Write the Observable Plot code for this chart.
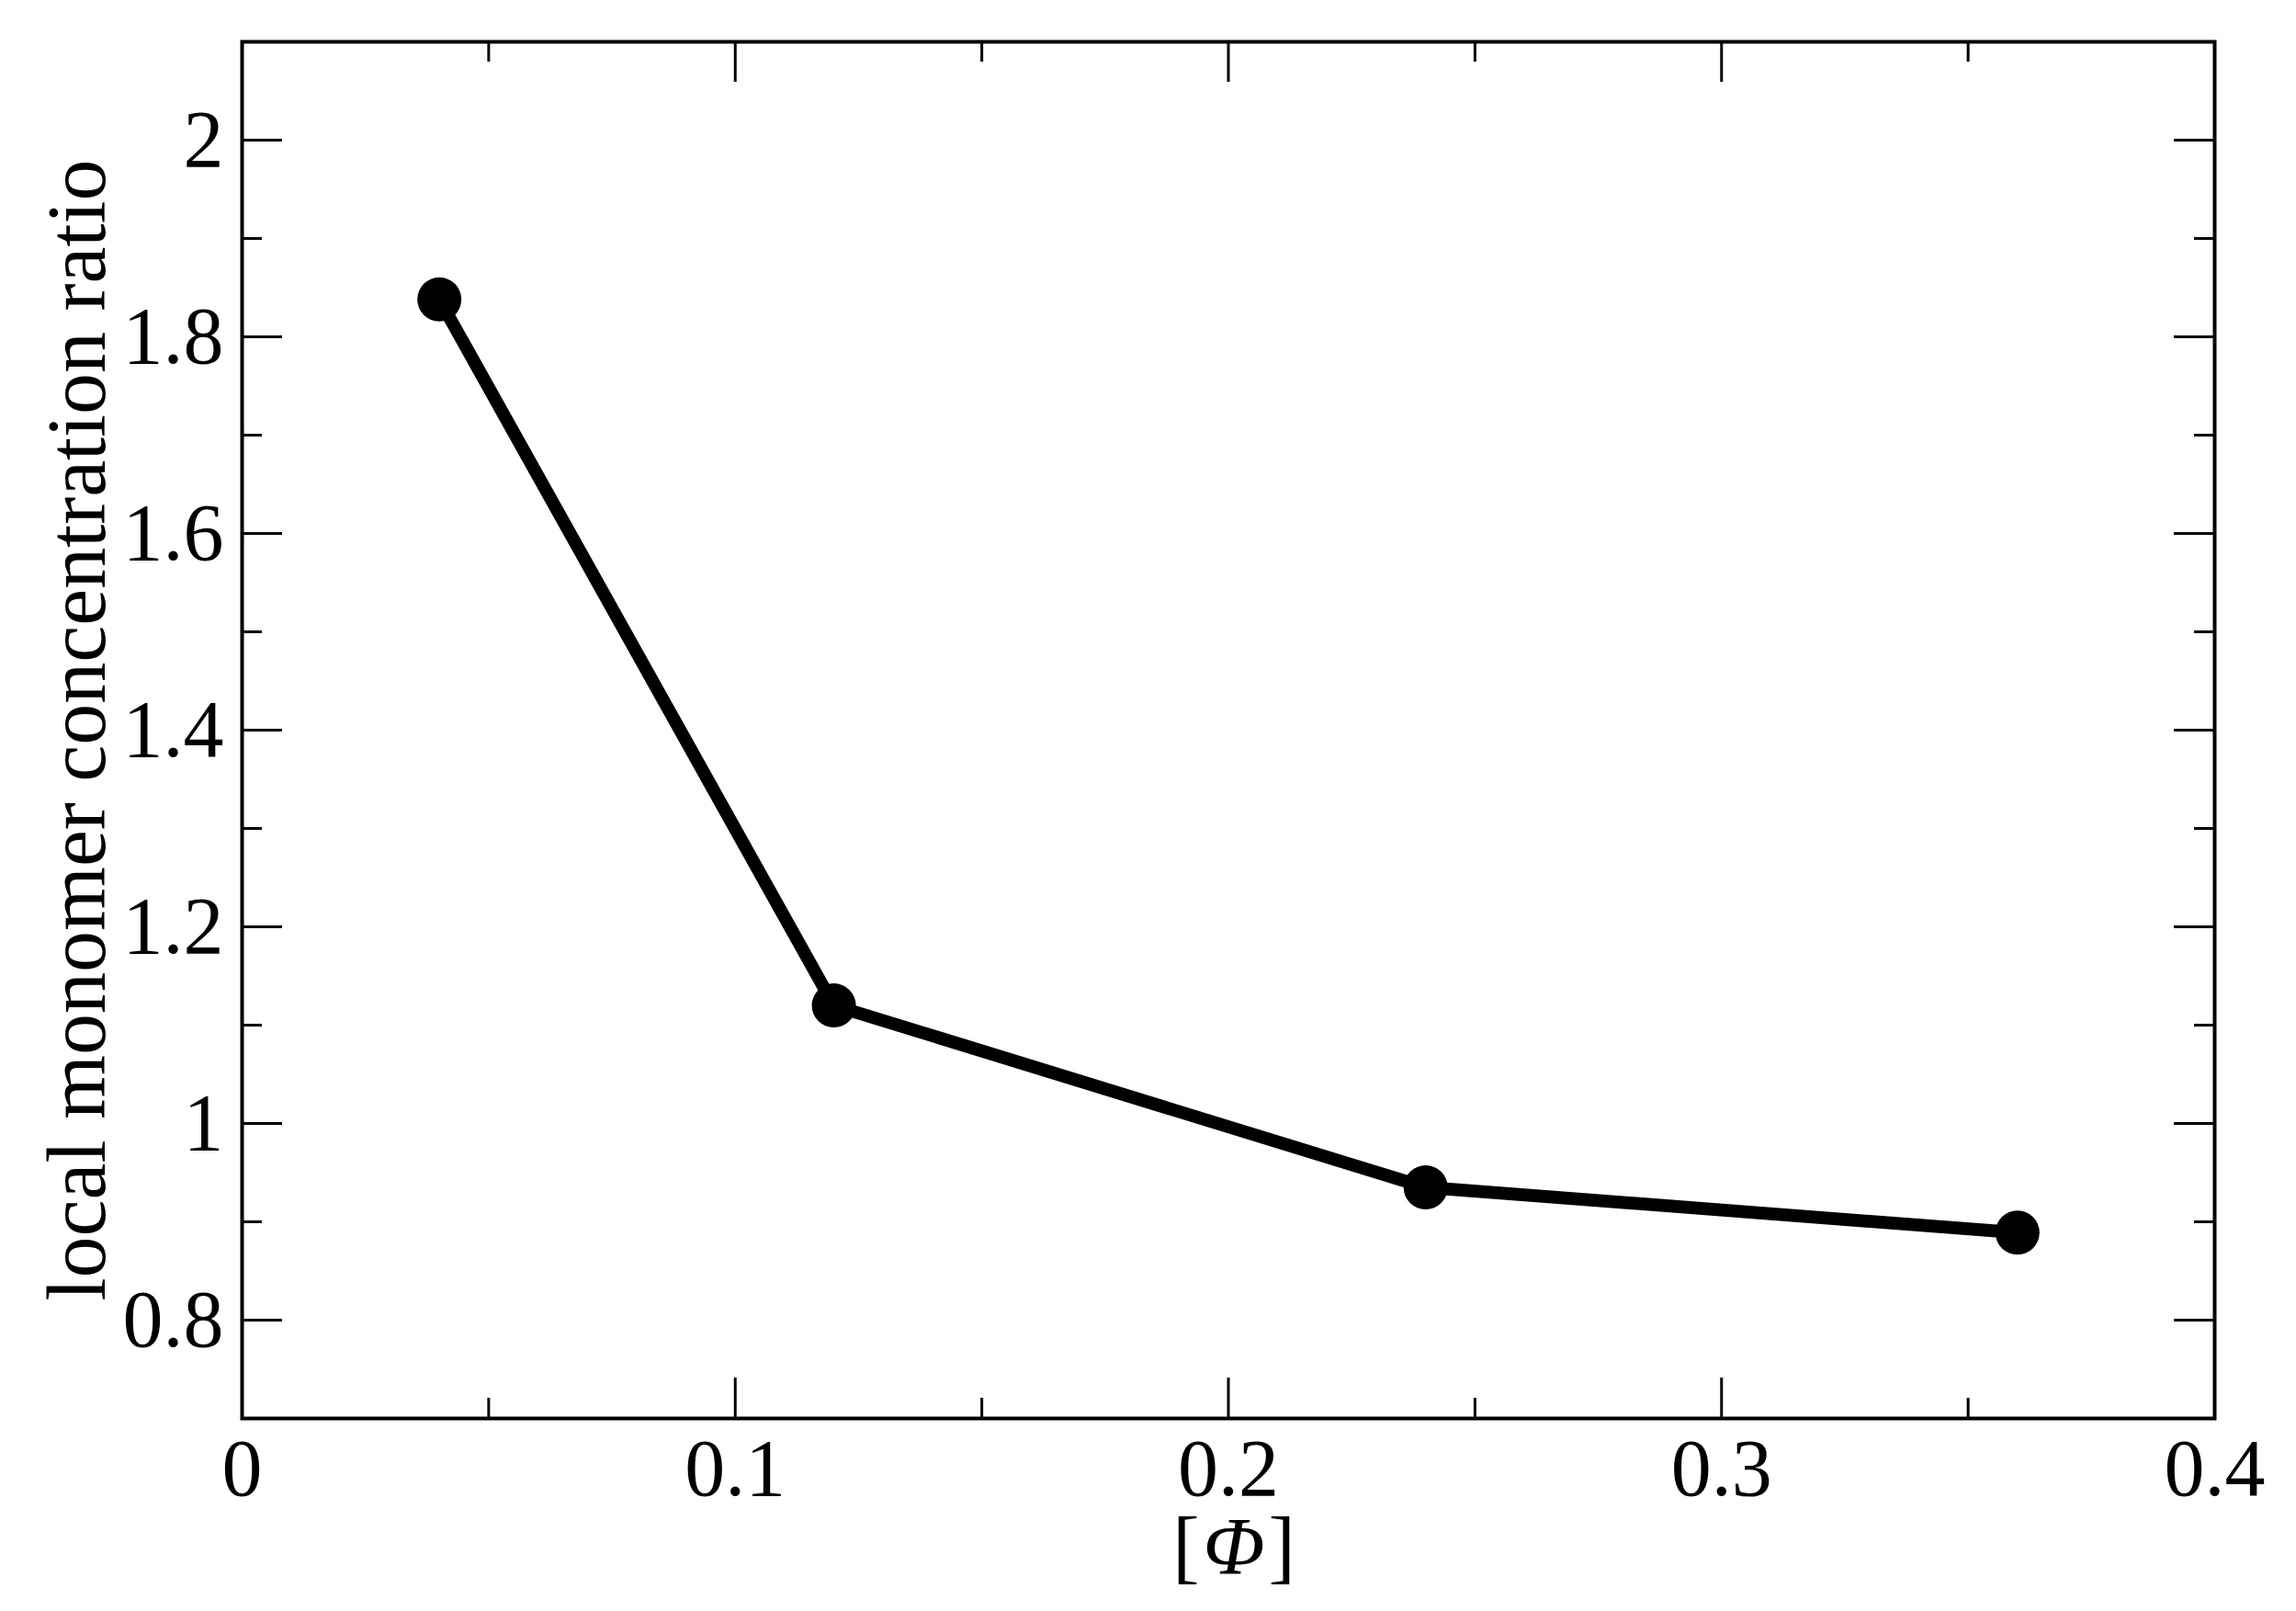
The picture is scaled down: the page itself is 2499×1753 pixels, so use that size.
<!DOCTYPE html>
<html>
<head>
<meta charset="utf-8">
<script src="https://cdn.jsdelivr.net/npm/d3@7"></script>
<script src="https://cdn.jsdelivr.net/npm/@observablehq/plot@0.6"></script>
<style>
  html, body { margin: 0; padding: 0; background: #fff; }
  svg, svg text { font-family: "Liberation Serif", "Times New Roman", Times, serif !important; }
</style>
</head>
<body>
<div id="chart"></div>
<script>
// ---- data ----
const phi = [0.04, 0.12, 0.24, 0.36];
const ratio = [1.838, 1.120, 0.935, 0.889];

const xMajorTicks = [0, 0.1, 0.2, 0.3, 0.4];
const xMinorTicks = [0.05, 0.15, 0.25, 0.35];
const yMajorTicks = [0.8, 1.0, 1.2, 1.4, 1.6, 1.8, 2.0];
const yMinorTicks = [0.9, 1.1, 1.3, 1.5, 1.7, 1.9];
const xTickLabels = ["0", "0.1", "0.2", "0.3", "0.4"];
const yTickLabels = ["0.8", "1", "1.2", "1.4", "1.6", "1.8", "2"];

const xLabelParts = ["[", "Φ", "]"];
const yLabel = "local monomer concentration ratio";

const data = phi.map((x, i) => ({x, y: ratio[i]}));

// ---- layout ----
const W = 2499, H = 1753;
const mL = 263, mR = 89, mT = 45, mB = 210;
const FW = W - mL - mR, FH = H - mT - mB;
const MAJ = 44, MIN = 22;
const FONT = "Liberation Serif";
const FS = 88;
const XLAB_CENTER = 1343;

const chart = Plot.plot({
  width: W,
  height: H,
  marginLeft: mL,
  marginRight: mR,
  marginTop: mT,
  marginBottom: mB,
  style: {fontFamily: FONT, fontSize: FS + "px", background: "#fff", color: "#000"},
  x: {domain: [0, 0.4]},
  y: {domain: [0.7, 2.1]},
  marks: [
    Plot.axisX(xMajorTicks, {tickSize: 0, tickPadding: 21, tickFormat: (d, i) => xTickLabels[i], fontSize: FS, label: null}),
    Plot.axisY(yMajorTicks, {tickSize: 0, tickPadding: 20, tickFormat: (d, i) => yTickLabels[i], fontSize: FS, label: null}),
    // inward ticks: bottom & top
    Plot.tickX(xMajorTicks, {x: d => d, insetTop: FH - MAJ, strokeWidth: 3}),
    Plot.tickX(xMajorTicks, {x: d => d, insetBottom: FH - MAJ, strokeWidth: 3}),
    Plot.tickX(xMinorTicks, {x: d => d, insetTop: FH - MIN, strokeWidth: 3}),
    Plot.tickX(xMinorTicks, {x: d => d, insetBottom: FH - MIN, strokeWidth: 3}),
    // inward ticks: left & right
    Plot.tickY(yMajorTicks, {y: d => d, insetRight: FW - MAJ, strokeWidth: 3}),
    Plot.tickY(yMajorTicks, {y: d => d, insetLeft: FW - MAJ, strokeWidth: 3}),
    Plot.tickY(yMinorTicks, {y: d => d, insetRight: FW - MIN, strokeWidth: 3}),
    Plot.tickY(yMinorTicks, {y: d => d, insetLeft: FW - MIN, strokeWidth: 3}),
    Plot.frame({stroke: "#000", strokeWidth: 4}),
    Plot.line(data, {x: "x", y: "y", stroke: "#000", strokeWidth: 14, strokeLinejoin: "round"}),
    Plot.dot(data, {x: "x", y: "y", r: 24, fill: "#000", stroke: "none"}),
    Plot.text([yLabel], {text: d => d, frameAnchor: "left", rotate: -90, dx: -178, lineAnchor: "middle", fontSize: 90, textAnchor: "middle", fill: "#000"}),
    Plot.text([xLabelParts[0]], {text: d => d, frameAnchor: "bottom", dy: 140, lineAnchor: "middle", fontSize: FS, textAnchor: "middle", fill: "#000", className: "xlab0"}),
    Plot.text([xLabelParts[1]], {text: d => d, frameAnchor: "bottom", dy: 140, lineAnchor: "middle", fontSize: FS, fontStyle: "italic", textAnchor: "middle", fill: "#000", className: "xlab1"}),
    Plot.text([xLabelParts[2]], {text: d => d, frameAnchor: "bottom", dy: 140, lineAnchor: "middle", fontSize: FS, textAnchor: "middle", fill: "#000", className: "xlab2"})
  ]
});

d3.select(chart).attr("font-family", FONT).selectAll("text, g").attr("font-family", FONT);
document.getElementById("chart").appendChild(chart);

// lay out the three parts of the x label side by side, without overlap
const svgLeft = chart.getBoundingClientRect().left;
const parts = [0, 1, 2].map(i => chart.querySelector(`.xlab${i} text`));
const rects = parts.map(el => el.getBoundingClientRect());
const gap = 4;
const total = rects.reduce((s, r) => s + r.width, 0) + gap * 2;
let left = XLAB_CENTER - total / 2;
parts.forEach((el, i) => {
  const r = rects[i];
  const shift = left - (r.left - svgLeft);
  const prev = el.getAttribute("transform") || "";
  el.setAttribute("transform", `translate(${shift},0) ${prev}`.trim());
  left += r.width + gap;
});
</script>
</body>
</html>
